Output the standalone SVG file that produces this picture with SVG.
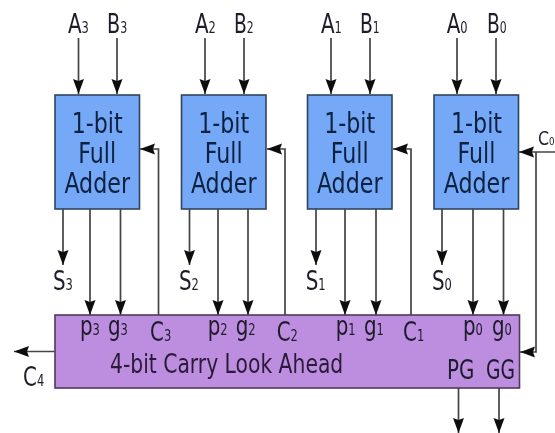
<svg xmlns="http://www.w3.org/2000/svg" width="555" height="433" viewBox="0 0 555 433">
<style>
text{font-family:"DejaVu Sans Condensed","DejaVu Sans","Liberation Sans",sans-serif;fill:#1c1c2a}
.fa{fill:#74a9f7;stroke:#2f4560;stroke-width:1.6}
.cla{fill:#bd8ee0;stroke:#4f3a5c;stroke-width:1.6}
.w{fill:none;stroke:#444;stroke-width:1.7}
.a{marker-end:url(#ah)}
.t{font-size:29px;fill:#0e2040;text-anchor:middle}
.l{font-size:26px}
.s{font-size:15px}
.m{font-size:26px;fill:#2a1a38}
.all{filter:url(#soft)}
</style>
<defs>
<marker id="ah" markerUnits="userSpaceOnUse" markerWidth="16" markerHeight="12" refX="15" refY="6" orient="auto"><path d="M0 .5L15 6L0 11.500L2 6Z" fill="#111"/></marker>
<filter id="soft" x="0" y="0" width="100%" height="100%"><feGaussianBlur stdDeviation="0.4"/></filter>
</defs>
<rect width="555" height="433" fill="#fff"/>
<g class="all">
<g id="connectors">
<path class="w a" d="M78.500 38V94"/><path class="w a" d="M117 38V94"/>
<path class="w a" d="M205 38V94"/><path class="w a" d="M244 38V94"/>
<path class="w a" d="M331 38V94"/><path class="w a" d="M370 38V94"/>
<path class="w a" d="M457 38V94"/><path class="w a" d="M496 38V94"/>
<path class="w a" d="M63 209V265"/><path class="w a" d="M189.500 209V265"/><path class="w a" d="M316 209V265"/><path class="w a" d="M442 209V265"/>
<path class="w a" d="M90 209V315"/><path class="w a" d="M120.500 209V315"/>
<path class="w a" d="M218 209V315"/><path class="w a" d="M248 209V315"/>
<path class="w a" d="M345 209V315"/><path class="w a" d="M376 209V315"/>
<path class="w a" d="M473 209V315"/><path class="w a" d="M503.500 209V315"/>
<path class="w a" d="M158.500 315V149H140"/><path class="w a" d="M285 315V149H267"/><path class="w a" d="M411 315V149H393"/>
<path class="w a" d="M555 152H519"/><path class="w a" d="M536 152V352H520"/>
<path class="w a" d="M55 351.500H14"/>
<path class="w a" d="M458.500 388V433"/><path class="w a" d="M499 388V433"/>
</g>
<g id="fa3"><rect class="fa" x="55" y="95" width="84.500" height="114"/><text class="t" transform="translate(97.200 132.500) scale(.85 1)">1-bit</text><text class="t" transform="translate(97.200 163) scale(.85 1)">Full</text><text class="t" transform="translate(97.200 193) scale(.85 1)">Adder</text></g>
<g id="fa2"><rect class="fa" x="181.500" y="95" width="84.500" height="114"/><text class="t" transform="translate(223.700 132.500) scale(.85 1)">1-bit</text><text class="t" transform="translate(223.700 163) scale(.85 1)">Full</text><text class="t" transform="translate(223.700 193) scale(.85 1)">Adder</text></g>
<g id="fa1"><rect class="fa" x="307.500" y="95" width="84.500" height="114"/><text class="t" transform="translate(349.700 132.500) scale(.85 1)">1-bit</text><text class="t" transform="translate(349.700 163) scale(.85 1)">Full</text><text class="t" transform="translate(349.700 193) scale(.85 1)">Adder</text></g>
<g id="fa0"><rect class="fa" x="434" y="95" width="84.500" height="114"/><text class="t" transform="translate(476.500 132.500) scale(.85 1)">1-bit</text><text class="t" transform="translate(476.500 163) scale(.85 1)">Full</text><text class="t" transform="translate(476.500 193) scale(.85 1)">Adder</text></g>
<g id="cla"><rect class="cla" x="55" y="315" width="464.500" height="73"/>
<text class="m" transform="translate(110 373) scale(.869 1)">4-bit Carry Look Ahead</text>
<text class="l" transform="translate(80 335) scale(.85 1)">p<tspan class="s">3</tspan></text><text class="l" transform="translate(108 335) scale(.85 1)">g<tspan class="s">3</tspan></text><text class="l" transform="translate(150 340.500) scale(.85 1)">C<tspan class="s">3</tspan></text>
<text class="l" transform="translate(207.700 335) scale(.85 1)">p<tspan class="s">2</tspan></text><text class="l" transform="translate(235.700 335) scale(.85 1)">g<tspan class="s">2</tspan></text><text class="l" transform="translate(276.700 340.500) scale(.85 1)">C<tspan class="s">2</tspan></text>
<text class="l" transform="translate(335.700 335) scale(.85 1)">p<tspan class="s">1</tspan></text><text class="l" transform="translate(364 335) scale(.85 1)">g<tspan class="s">1</tspan></text><text class="l" transform="translate(403 340.500) scale(.85 1)">C<tspan class="s">1</tspan></text>
<text class="l" transform="translate(463 335) scale(.85 1)">p<tspan class="s">0</tspan></text><text class="l" transform="translate(492 335) scale(.85 1)">g<tspan class="s">0</tspan></text>
<text class="l" transform="translate(447 379) scale(.85 1)">PG</text><text class="l" transform="translate(486 379) scale(.8 1)">GG</text></g>
<g id="labels">
<text class="l" transform="translate(68 33) scale(.85 1)">A<tspan class="s">3</tspan></text><text class="l" transform="translate(107 33) scale(.82 1)">B<tspan class="s">3</tspan></text>
<text class="l" transform="translate(195 33) scale(.85 1)">A<tspan class="s">2</tspan></text><text class="l" transform="translate(234 33) scale(.8 1)">B<tspan class="s">2</tspan></text>
<text class="l" transform="translate(321 33) scale(.85 1)">A<tspan class="s">1</tspan></text><text class="l" transform="translate(360 33) scale(.8 1)">B<tspan class="s">1</tspan></text>
<text class="l" transform="translate(446.700 33) scale(.85 1)">A<tspan class="s">0</tspan></text><text class="l" transform="translate(487 33) scale(.8 1)">B<tspan class="s">0</tspan></text>
<text class="l" transform="translate(53 290) scale(.85 1)">S<tspan class="s">3</tspan></text><text class="l" transform="translate(179 290) scale(.85 1)">S<tspan class="s">2</tspan></text><text class="l" transform="translate(305.700 290) scale(.85 1)">S<tspan class="s">1</tspan></text><text class="l" transform="translate(432 290) scale(.85 1)">S<tspan class="s">0</tspan></text>
<text class="l" transform="translate(23 386) scale(.85 1)">C<tspan class="s">4</tspan></text>
<text font-size="20" transform="translate(538 145) scale(.88 1)">C<tspan font-size="11">0</tspan></text>
</g>
</g>
</svg>
